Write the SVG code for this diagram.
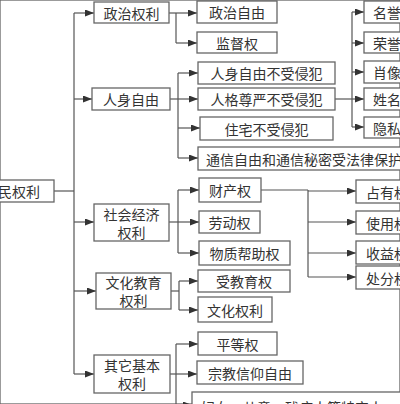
<svg xmlns="http://www.w3.org/2000/svg" width="400" height="404" viewBox="0 0 400 404">
<style>
rect{fill:#fff;stroke:#666;stroke-width:1.3}
text{font-family:"Noto Sans CJK SC","Noto Sans",sans-serif;font-size:14px;fill:#333;text-anchor:middle;dominant-baseline:central}
.c line{stroke:#555;stroke-width:1.2}
.a{marker-end:url(#ah)}
</style>
<defs>
<marker id="ah" markerUnits="userSpaceOnUse" markerWidth="10" markerHeight="8" refX="9" refY="3.5" orient="auto">
<path d="M0,0 L9,3.5 L0,7 z" fill="#333"/>
</marker>
</defs>
<rect width="400" height="404" fill="#fff" stroke="none"/>
<g class="c">
<line x1="54" y1="191" x2="74" y2="191"/>
<line x1="74" y1="13" x2="74" y2="374"/>
<line class="a" x1="74" y1="13" x2="94" y2="13"/>
<line class="a" x1="74" y1="99" x2="92" y2="99"/>
<line class="a" x1="74" y1="222" x2="94" y2="222"/>
<line class="a" x1="74" y1="291" x2="96" y2="291"/>
<line class="a" x1="74" y1="374" x2="94" y2="374"/>
<line x1="169" y1="13" x2="176" y2="13"/>
<line x1="176" y1="13" x2="176" y2="43"/>
<line class="a" x1="176" y1="13" x2="197" y2="13"/>
<line class="a" x1="176" y1="43" x2="197" y2="43"/>
<line x1="170" y1="99" x2="178" y2="99"/>
<line x1="178" y1="73" x2="178" y2="158"/>
<line class="a" x1="178" y1="73" x2="198" y2="73"/>
<line class="a" x1="178" y1="99" x2="198" y2="99"/>
<line class="a" x1="178" y1="128" x2="200" y2="128"/>
<line class="a" x1="178" y1="158" x2="198" y2="158"/>
<line x1="335" y1="99" x2="352" y2="99"/>
<line x1="352" y1="12" x2="352" y2="127"/>
<line class="a" x1="352" y1="12" x2="364" y2="12"/>
<line class="a" x1="352" y1="43" x2="364" y2="43"/>
<line class="a" x1="352" y1="72" x2="364" y2="72"/>
<line class="a" x1="352" y1="99" x2="364" y2="99"/>
<line class="a" x1="352" y1="127" x2="364" y2="127"/>
<line x1="169" y1="222" x2="178" y2="222"/>
<line x1="178" y1="190" x2="178" y2="253"/>
<line class="a" x1="178" y1="190" x2="199" y2="190"/>
<line class="a" x1="178" y1="222" x2="199" y2="222"/>
<line class="a" x1="178" y1="253" x2="199" y2="253"/>
<line x1="261" y1="190" x2="308" y2="190"/>
<line x1="308" y1="190" x2="308" y2="277"/>
<line class="a" x1="308" y1="191" x2="356" y2="191"/>
<line class="a" x1="308" y1="222" x2="356" y2="222"/>
<line class="a" x1="308" y1="253" x2="356" y2="253"/>
<line class="a" x1="308" y1="277" x2="356" y2="277"/>
<line x1="171" y1="291" x2="179" y2="291"/>
<line x1="179" y1="281" x2="179" y2="310"/>
<line class="a" x1="179" y1="281" x2="198" y2="281"/>
<line class="a" x1="179" y1="310" x2="198" y2="310"/>
<line x1="170" y1="374" x2="176" y2="374"/>
<line x1="176" y1="344" x2="176" y2="410"/>
<line class="a" x1="176" y1="344" x2="198" y2="344"/>
<line class="a" x1="176" y1="374" x2="197" y2="374"/>
<line class="a" x1="176" y1="405" x2="192" y2="405"/>
</g>
<g id="root"><rect x="-30" y="180" width="84" height="22"/><text x="12" y="191">公民权利</text></g>
<g id="n-zz"><rect x="94" y="2" width="75" height="21"/><text x="131.5" y="12.5">政治权利</text></g>
<g id="n-rs"><rect x="92" y="88" width="78" height="22"/><text x="131" y="99">人身自由</text></g>
<g id="n-sh"><rect x="94" y="204" width="75" height="37"/><text x="131.5" y="213.5">社会经济</text><text x="131.5" y="231.5">权利</text></g>
<g id="n-wh"><rect x="96" y="273" width="75" height="36"/><text x="133.5" y="282">文化教育</text><text x="133.5" y="300">权利</text></g>
<g id="n-qt"><rect x="94" y="355" width="76" height="38"/><text x="132" y="365">其它基本</text><text x="132" y="383">权利</text></g>
<g id="n-zzzy"><rect x="197" y="1" width="80" height="22"/><text x="237" y="12">政治自由</text></g>
<g id="n-jdq"><rect x="197" y="32" width="80" height="21"/><text x="237" y="42.5">监督权</text></g>
<g id="n-rszy"><rect x="198" y="62" width="137" height="22"/><text x="266.5" y="73">人身自由不受侵犯</text></g>
<g id="n-rgzy"><rect x="198" y="88" width="137" height="22"/><text x="266.5" y="99">人格尊严不受侵犯</text></g>
<g id="n-zz2"><rect x="200" y="117" width="133" height="23"/><text x="266.5" y="128.5">住宅不受侵犯</text></g>
<g id="n-tx"><rect x="198" y="147" width="270" height="23"/><text x="206" y="158.5" style="text-anchor:start">通信自由和通信秘密受法律保护</text></g>
<g id="n-my"><rect x="364" y="1" width="60" height="22"/><text x="373" y="12" style="text-anchor:start">名誉权</text></g>
<g id="n-ry"><rect x="364" y="32" width="60" height="21"/><text x="373" y="42.5" style="text-anchor:start">荣誉权</text></g>
<g id="n-xx"><rect x="364" y="61" width="60" height="22"/><text x="373" y="72" style="text-anchor:start">肖像权</text></g>
<g id="n-xm"><rect x="364" y="88" width="60" height="22"/><text x="373" y="99" style="text-anchor:start">姓名权</text></g>
<g id="n-ys"><rect x="364" y="117" width="60" height="21"/><text x="373" y="127.5" style="text-anchor:start">隐私权</text></g>
<g id="n-cc"><rect x="199" y="178" width="62" height="24"/><text x="230" y="190">财产权</text></g>
<g id="n-ld"><rect x="199" y="211" width="61" height="22"/><text x="229.5" y="222">劳动权</text></g>
<g id="n-wz"><rect x="199" y="241" width="91" height="24"/><text x="244.5" y="253">物质帮助权</text></g>
<g id="n-zy"><rect x="356" y="180" width="60" height="23"/><text x="366" y="191.5" style="text-anchor:start">占有权</text></g>
<g id="n-sy"><rect x="356" y="211" width="60" height="23"/><text x="366" y="222.5" style="text-anchor:start">使用权</text></g>
<g id="n-sy2"><rect x="356" y="241" width="60" height="23"/><text x="366" y="252.5" style="text-anchor:start">收益权</text></g>
<g id="n-cf"><rect x="356" y="266" width="60" height="23"/><text x="366" y="277.5" style="text-anchor:start">处分权</text></g>
<g id="n-sjy"><rect x="198" y="270" width="92" height="22"/><text x="244" y="281">受教育权</text></g>
<g id="n-whq"><rect x="198" y="297" width="74" height="25"/><text x="235" y="309.5">文化权利</text></g>
<g id="n-pd"><rect x="198" y="332" width="79" height="23"/><text x="237.5" y="343.5">平等权</text></g>
<g id="n-zj"><rect x="197" y="361" width="106" height="23"/><text x="250" y="372.5">宗教信仰自由</text></g>
<g id="n-fn"><rect x="192" y="392" width="240" height="30"/><text x="201" y="407" style="text-anchor:start">妇女、儿童、残疾人等特定人</text></g>
</svg>
